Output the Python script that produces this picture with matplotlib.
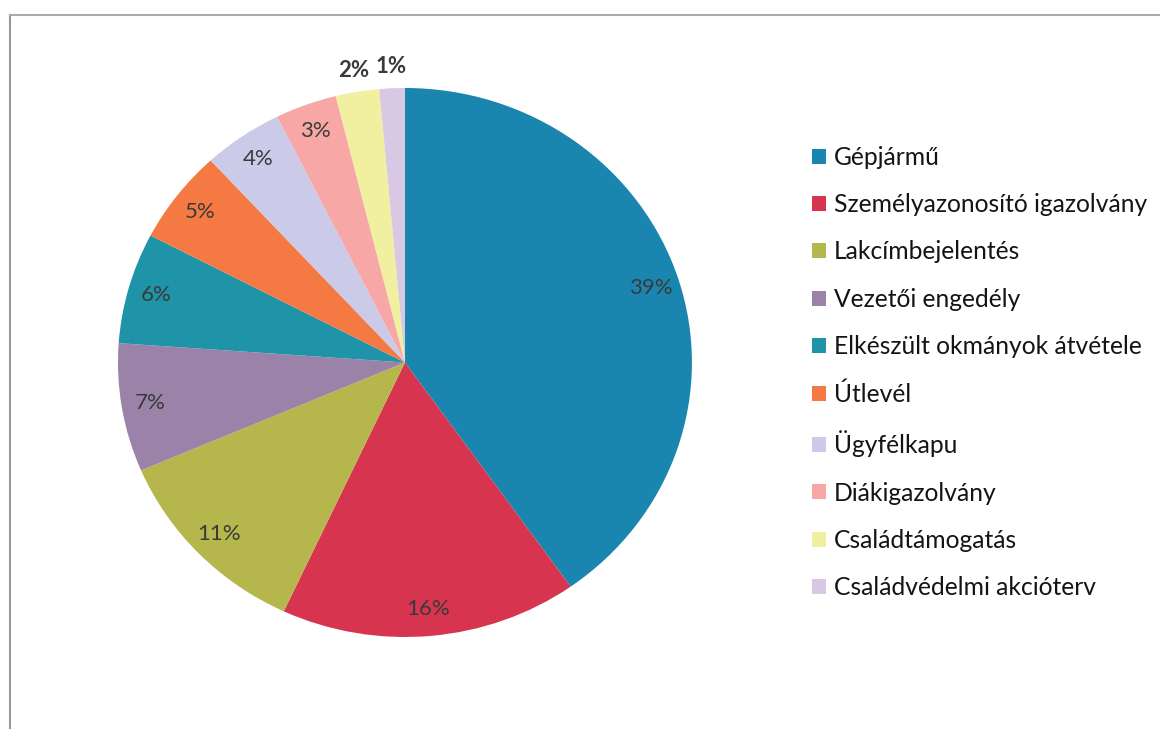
import matplotlib
matplotlib.use('Agg')
import matplotlib.pyplot as plt
from matplotlib.patches import Patch
from matplotlib.lines import Line2D
import numpy as np

plt.rcParams['font.family'] = ['Lato', 'DejaVu Sans']

categories = ['Gépjármű', 'Személyazonosító igazolvány', 'Lakcímbejelentés',
              'Vezetői engedély', 'Elkészült okmányok átvétele', 'Útlevél',
              'Ügyfélkapu', 'Diákigazolvány', 'Családtámogatás',
              'Családvédelmi akcióterv']
values = [39.4, 16.4, 11.4, 7.4, 6.4, 5.4, 4.4, 3.4, 2.4, 1.4]
colors = ['#1a86b0', '#d7354f', '#b5b74c', '#9b82a9', '#1f93a7', '#f47942',
          '#cbcae8', '#f6a7a6', '#f0f0a0', '#d8c8e4']

fig = plt.figure(figsize=(11.6, 7.29), dpi=100)

# frame of the chart area (scanned: only left and top visible)
fig.add_artist(Line2D([0.009, 0.009], [0.0, 0.979], color='#999999', lw=1.5))
fig.add_artist(Line2D([0.009, 1.0], [0.979, 0.979], color='#aaaaaa', lw=1.5))

# scanned pie is a bit wider than tall
ax = fig.add_axes([0.1017, 0.1262, 0.4948, 0.7531])
wedges, _ = ax.pie(values, colors=colors, startangle=90, counterclock=False,
                   wedgeprops=dict(linewidth=0))
ax.set_aspect('auto')
ax.set_xlim(-1, 1)
ax.set_ylim(-1, 1)

for w, v in zip(wedges, values):
    mid = np.deg2rad((w.theta1 + w.theta2) / 2)
    if v < 2.5:
        r, weight = 1.08, 'bold'
    else:
        r, weight = 0.9, 'normal'
    ax.text(r * np.cos(mid), r * np.sin(mid), '{:.0f}%'.format(v),
            ha='center', va='center', fontsize=16, color='#3a3a3a',
            fontweight=weight)

handles = [Patch(facecolor=c, edgecolor='none') for c in colors]
fig.legend(handles, categories, loc='upper left',
           bbox_to_anchor=(0.7, 0.8), frameon=False, fontsize=17.7,
           handlelength=0.55, handleheight=0.55, handletextpad=0.35,
           labelspacing=0.99, borderpad=0, borderaxespad=0,
           labelcolor='#141414')

fig.savefig('out.png', dpi=100)
